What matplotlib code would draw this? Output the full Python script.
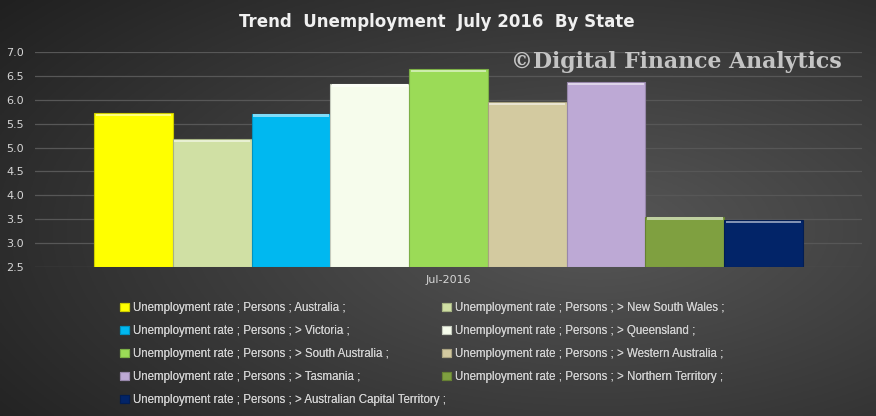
import numpy as np
import matplotlib
matplotlib.use("Agg")
import matplotlib.pyplot as plt
from matplotlib.colors import to_rgb
from matplotlib.ticker import FormatStrFormatter, MultipleLocator

# data
states = ["Australia", "> New South Wales", "> Victoria", "> Queensland",
          "> South Australia", "> Western Australia", "> Tasmania",
          "> Northern Territory", "> Australian Capital Territory"]
rates = [5.72, 5.17, 5.71, 6.33, 6.64, 5.95, 6.37, 3.55, 3.48]
colors = ["#FFFF00", "#D0E0A4", "#00B8F0", "#F6FCEC", "#9BDB57",
          "#D3CAA0", "#BDA9D5", "#7FA040", "#022468"]
period = "Jul-2016"

txt = "#d6d6d6"

fig = plt.figure(figsize=(8.76, 4.16), dpi=100)

# dark radial-ish background
bg = fig.add_axes([0, 0, 1, 1], zorder=-10)
yy, xx = np.mgrid[0:1:200j, 0:1:420j]
r = np.sqrt(((xx - 0.68) / 0.9) ** 2 + ((yy - 0.55) / 0.9) ** 2)
shade = 0.34 - 0.22 * np.clip(r, 0, 1)
bg.imshow(np.dstack([shade] * 3), aspect="auto", extent=(0, 1, 0, 1))
bg.axis("off")

ax = fig.add_axes([35 / 876, 1 - 267 / 416, 827 / 876, 215 / 416])
ax.patch.set_alpha(0)

n = len(rates)
w = 0.857 / n
xs = (np.arange(n) - (n - 1) / 2) * w
base = 2.5
for x, v, c, s in zip(xs, rates, colors, states):
    dark = tuple(np.array(to_rgb(c)) * 0.8)
    light = tuple(1 - (1 - np.array(to_rgb(c))) * 0.5)
    ax.bar(x, v - base, bottom=base, width=w, color=c, edgecolor=dark,
           linewidth=0.8, zorder=3,
           label="Unemployment rate ; Persons ; " + s + " ;")
    # bevel highlight on top
    ax.bar(x, 0.05, bottom=v - 0.06, width=w * 0.96, color=light,
           linewidth=0, zorder=4)

ax.set_xlim(-0.5, 0.5)
ax.set_ylim(2.5, 7.0)
ax.yaxis.set_major_locator(MultipleLocator(0.5))
ax.yaxis.set_major_formatter(FormatStrFormatter("%.1f"))
ax.set_xticks([0])
ax.set_xticklabels([period])
ax.tick_params(length=0, colors=txt, labelsize=8)
ax.tick_params(axis="x", pad=6)
ax.tick_params(axis="y", pad=8)
ax.grid(axis="y", color="#575757", linewidth=0.9, zorder=0)
for sp in ax.spines.values():
    sp.set_visible(False)

fig.text(437 / 876, 1 - 22 / 416, "Trend  Unemployment  July 2016  By State",
         ha="center", va="center", color="#f0f0f0", fontsize=12,
         fontweight="bold")
fig.text(676 / 876, 1 - 62 / 416, "\u00a9Digital Finance Analytics",
         ha="center", va="center", color="#c4c4c4", fontsize=15.8,
         fontweight="bold", family="DejaVu Serif")

handles, labels = ax.get_legend_handles_labels()
handles = handles[:n]
labels = labels[:n]
col1 = [0, 2, 4, 6, 8]
col2 = [1, 3, 5, 7]
for idx, x0 in [(col1, 120), (col2, 442)]:
    lg = fig.legend([handles[i] for i in idx], [labels[i] for i in idx],
                    loc="upper left", bbox_to_anchor=(x0 / 876, 1 - 302 / 416),
                    frameon=False, prop={"family": ["Liberation Sans Narrow", "Liberation Sans"], "size": 8.3},
                    labelcolor="#d0d0d0",
                    handlelength=0.75, handleheight=0.75, handletextpad=0.35,
                    labelspacing=0.95, borderaxespad=0, borderpad=0)
    fig.add_artist(lg)

fig.savefig("out.png", dpi=100)
